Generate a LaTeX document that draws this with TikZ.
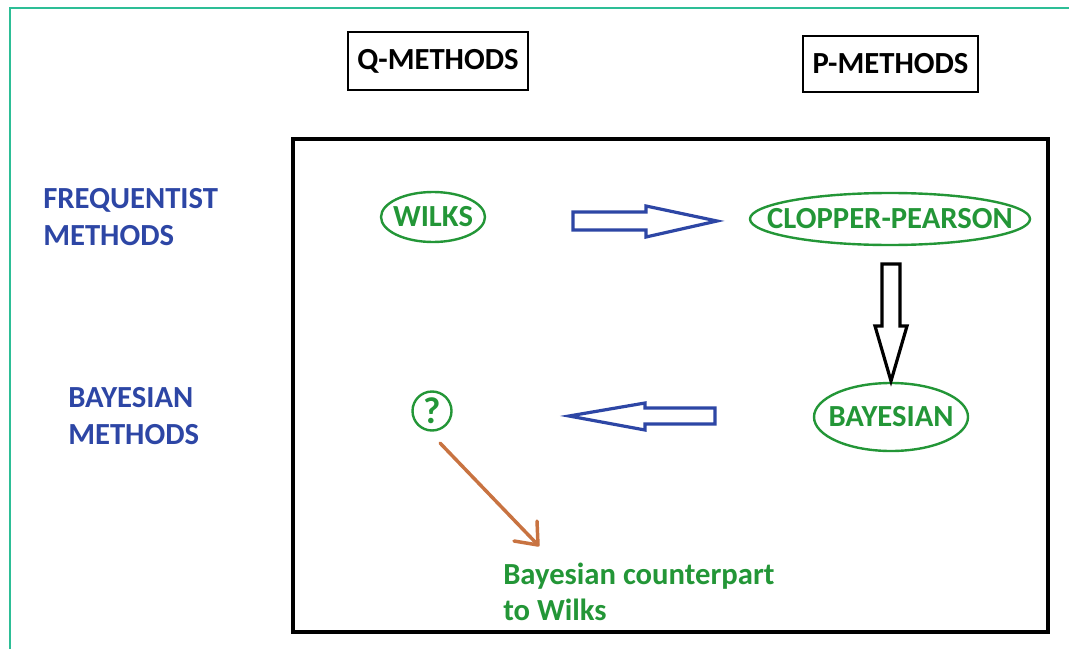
\documentclass[tikz,border=0pt]{standalone}
\usepackage{fontspec}
\setmainfont{Carlito}
\usetikzlibrary{shapes.geometric}
\definecolor{teal1}{RGB}{45,190,150}
\definecolor{gr}{RGB}{35,150,55}
\definecolor{bl}{RGB}{45,70,165}
\definecolor{ora}{RGB}{200,115,65}
\tikzset{
  hdr/.style={draw=black, line width=1.6pt, font=\bfseries\fontsize{23}{28}\selectfont, inner sep=0pt},
  lbl/.style={text=bl, font=\bfseries\fontsize{23}{28}\selectfont, align=left, anchor=north west, inner sep=0pt},
  ell/.style={ellipse, draw=gr, line width=1.8pt, inner sep=0pt},
  etxt/.style={text=gr, font=\bfseries\fontsize{23}{28}\selectfont, inner sep=0pt},
  barrowb/.style={draw=bl, line width=2.4pt, line join=miter, fill=white},
  barrowk/.style={draw=black, line width=2.4pt, line join=miter, fill=white},
}
\begin{document}
\begin{tikzpicture}[x=0.75pt,y=-0.75pt]
\useasboundingbox (0,0) rectangle (1069,649);
% outer frame
\draw[teal1, line width=1.8pt] (10,649) -- (10,8) -- (1069,8);
% headers
\node[hdr, minimum width=180*0.75pt, minimum height=58*0.75pt] (q) at (438,61) {Q-METHODS};
\node[hdr, minimum width=175*0.75pt, minimum height=56*0.75pt] (p) at (890.5,64) {P-METHODS};
% main box
\draw[black, line width=3pt] (293,139) rectangle (1048,632);
% row labels
\node[lbl] (freq) at (43,188) {FREQUENTIST\\METHODS};
\node[lbl] (bay) at (68,387) {BAYESIAN\\METHODS};
% ellipses
\node[ell, minimum width=104*0.75pt, minimum height=50*0.75pt] (wilks) at (433,217) {};
\node[etxt] (wilkst) at (wilks) {WILKS};
\node[ell, minimum width=280*0.75pt, minimum height=52*0.75pt] (cp) at (890,219) {};
\node[etxt] (cpt) at (cp) {CLOPPER-PEARSON};
\node[ell, minimum width=154*0.75pt, minimum height=68*0.75pt] (bayes) at (891,417) {};
\node[etxt] (bayest) at (bayes) {BAYESIAN};
\node[circle, draw=gr, line width=1.8pt, minimum size=39*0.75pt, inner sep=0pt] (qm) at (432,411) {};
\node[etxt, font=\bfseries\fontsize{28}{30}\selectfont] (qmt) at (qm) {?};
% block arrows
\draw[barrowb] (573,212) -- (646,212) -- (646,206) -- (717,221) -- (646,237) -- (646,230) -- (573,230) -- cycle;
\draw[barrowk] (882,264) -- (900,264) -- (900,326) -- (907,326) -- (891,381) -- (875,326) -- (882,326) -- cycle;
\draw[barrowb] (715,408) -- (645,408) -- (645,403) -- (569,416) -- (645,430) -- (645,424) -- (715,424) -- cycle;
% orange arrow
\coordinate (oend) at (538,545);
\draw[ora, line width=2.6pt, line cap=round] ([shift={(8,32)}]qm.center) -- (oend);
\draw[ora, line width=2.6pt, line cap=round, line join=round] (514,541) -- (538,545) -- (537,521);
% bottom text
\node[text=gr, font=\bfseries\fontsize{23}{27}\selectfont, align=left, anchor=north west, inner sep=0pt] (cnt) at (503,563) {Bayesian counterpart\\to Wilks};
\end{tikzpicture}
\end{document}
